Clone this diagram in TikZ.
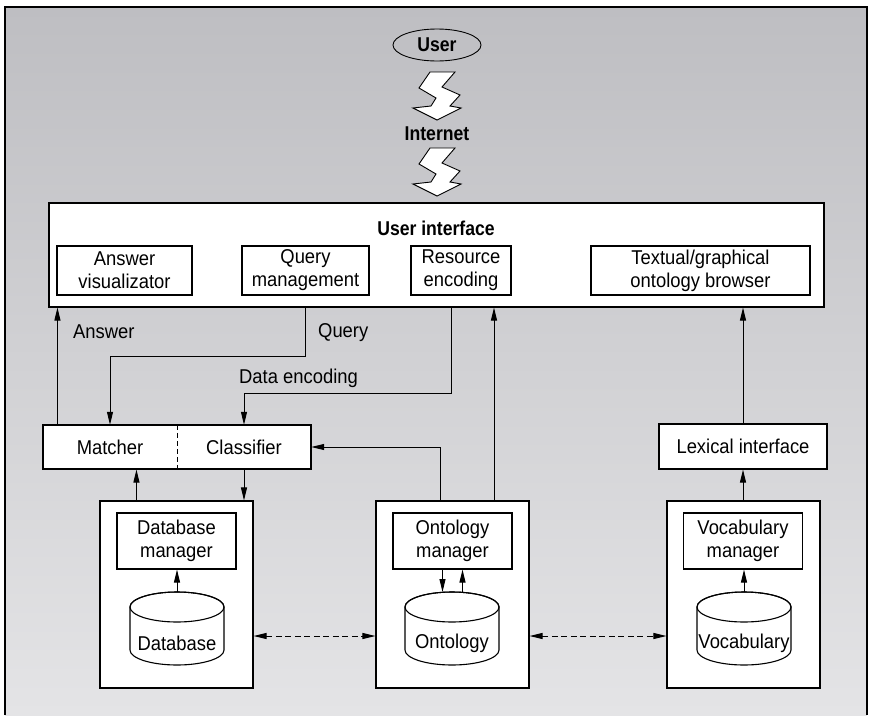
\documentclass[tikz,border=0pt]{standalone}
\usepackage{fontspec}
\setmainfont{Liberation Sans}[FakeStretch=0.92]
\newfontfamily\titlefont{Liberation Sans}[FakeStretch=0.88]
\usetikzlibrary{arrows.meta,calc,shapes.geometric}
\definecolor{bgtop}{RGB}{190,190,194}
\definecolor{bgbot}{RGB}{228,228,230}

% storage drum: #1 centre x, #2 name, #3 label
\newcommand\drumstore[3]{%
  \filldraw[fill=white, line width=1.1pt]
    (#1-47,607) -- (#1-47,650)
    arc[start angle=180, end angle=360, x radius=47pt, y radius=15pt]
    -- (#1+47,607)
    arc[start angle=0, end angle=180, x radius=47pt, y radius=15pt] -- cycle;
  \draw[line width=1.1pt] (#1,607) ellipse[x radius=47pt, y radius=15pt];
  \coordinate (#2top) at (#1,592);
  \node (#2) at (#1,643) {#3};
}
% lightning bolt with its top at y = #1
\newcommand\zapbolt[1]{%
  \filldraw[fill=white, line width=0.9pt, shift={(437,#1)}]
    (-7,0) -- (-18,16) -- (-1,26) -- (-6,34) -- (-24,36) -- (0,48)
    -- (24,36) -- (13,34) -- (23,23) -- (5,15) -- (18,0) -- cycle;
}

\begin{document}
\begin{tikzpicture}[x=1pt, y=-1pt,
  every node/.style={font=\fontsize{20}{23}\selectfont, inner sep=0pt},
  box/.style={draw, fill=white, line width=1.1pt, align=center},
  tbold/.style={font=\titlefont\fontsize{20}{23}\selectfont\bfseries},
  link/.style={line width=1pt},
  arr/.style={link, -{Triangle[length=13pt,width=6pt]}},
  darr/.style={link, dash pattern=on 6pt off 3.5pt,
    {Triangle[length=13pt,width=6pt]}-{Triangle[length=13pt,width=6pt]}},
]
\useasboundingbox (0,0) rectangle (870,715);

% backdrop and frame
\shade[top color=bgtop, bottom color=bgbot] (5,7) rectangle (867,715);
\draw[line width=1.3pt] (5,715) -- (5,7) -- (867,7) -- (867,715);

% user and network
\node[draw, ellipse, line width=0.9pt, minimum width=88pt, minimum height=32pt, tbold] (user) at (437,45) {User};
\zapbolt{72}
\node[tbold] (internet) at (437,134) {Internet};
\zapbolt{148}

% user interface
\node[box, minimum width=775pt, minimum height=104pt] (ui) at (436.5,255) {};
\node[tbold] (uititle) at (436,228) {User interface};
\node[box, minimum width=135pt, minimum height=49pt] (ansvis) at (124.5,270.5) {Answer\\visualizator};
\node[box, minimum width=127pt, minimum height=49pt] (querym) at (305.5,270.5) {Query\\management};
\node[box, minimum width=100pt, minimum height=49pt] (resenc) at (461,270.5) {Resource\\encoding};
\node[box, minimum width=219pt, minimum height=49pt] (browser) at (700.5,270.5) {Textual/graphical\\ontology browser};

% matcher / classifier
\node[box, minimum width=268pt, minimum height=44pt] (mc) at (177,447) {};
\node[minimum width=134pt, minimum height=44pt] (matcher) at (110,447) {Matcher};
\node[minimum width=134pt, minimum height=44pt] (classifier) at (244,447) {Classifier};
\draw[line width=0.9pt, dash pattern=on 5pt off 3pt] (matcher.north east) -- (matcher.south east);

\node[box, minimum width=168pt, minimum height=45pt] (lexical) at (743,446.5) {Lexical interface};

% stores
\node[box, minimum width=153pt, minimum height=187pt] (dbbox) at (176.5,594.5) {};
\node[box, minimum width=119pt, minimum height=56pt] (dbman) at (176.5,541) {Database\\manager};
\drumstore{177}{dbcyl}{Database}

\node[box, minimum width=153pt, minimum height=187pt] (obox) at (452.5,594.5) {};
\node[box, minimum width=119pt, minimum height=56pt] (oman) at (452.5,541) {Ontology\\manager};
\drumstore{452}{ocyl}{Ontology}

\node[box, minimum width=153pt, minimum height=187pt] (vbox) at (743.5,594.5) {};
\node[box, minimum width=119pt, minimum height=56pt] (vman) at (743,541) {Vocabulary\\manager};
\drumstore{744}{vcyl}{Vocabulary}

% answer path
\coordinate (ansfoot) at ([xshift=15pt]mc.north west);
\draw[arr] (ansfoot) -- (ansfoot |- ui.south);
\node[anchor=west] (lblanswer) at (73,332) {Answer};

% query path
\coordinate (qtop) at (querym.south |- ui.south);
\draw[arr] (qtop) -- ++(0,49) -| (matcher.north);
\node[anchor=west] (lblquery) at (318,333) {Query};

% data encoding path
\coordinate (dfoot) at ([xshift=-10pt]resenc.south);
\coordinate (dtop) at (dfoot |- ui.south);
\draw[arr] (dtop) -- ++(0,86) -| (classifier.north);
\node[anchor=west] (lbldata) at (239,378) {Data encoding};

% ontology links
\coordinate (rfoot) at ([xshift=41.5pt]obox.north);
\draw[arr] (rfoot) -- (rfoot |- ui.south);
\coordinate (cfoot) at ([xshift=-12.5pt]obox.north);
\draw[arr] (cfoot) |- (classifier.east);

% lexical links
\draw[arr] (lexical.north) -- (lexical.north |- ui.south);
\draw[arr] (lexical.south |- vbox.north) -- (lexical.south);

% matcher / classifier to database
\coordinate (mfoot) at ([xshift=37pt]dbbox.north west);
\draw[arr] (mfoot) -- (mfoot |- mc.south);
\draw[arr] (classifier.south) -- (classifier.south |- dbbox.north);

% inside the stores
\draw[arr] (dbcyltop) -- (dbcyltop |- dbman.south);
\coordinate (odn) at ([xshift=-10pt]oman.south);
\coordinate (oup) at ([xshift=10pt]oman.south);
\draw[arr] (odn) -- (odn |- ocyltop);
\draw[arr] (oup |- ocyltop) -- (oup);
\draw[arr] (vcyltop) -- (vcyltop |- vman.south);

% store-to-store links
\coordinate (d1) at ([yshift=-41.5pt]dbbox.east);
\draw[darr] (d1) -- (d1 -| obox.west);
\coordinate (d2) at ([yshift=-41.5pt]obox.east);
\draw[darr] (d2) -- (d2 -| vbox.west);
\end{tikzpicture}
\end{document}
